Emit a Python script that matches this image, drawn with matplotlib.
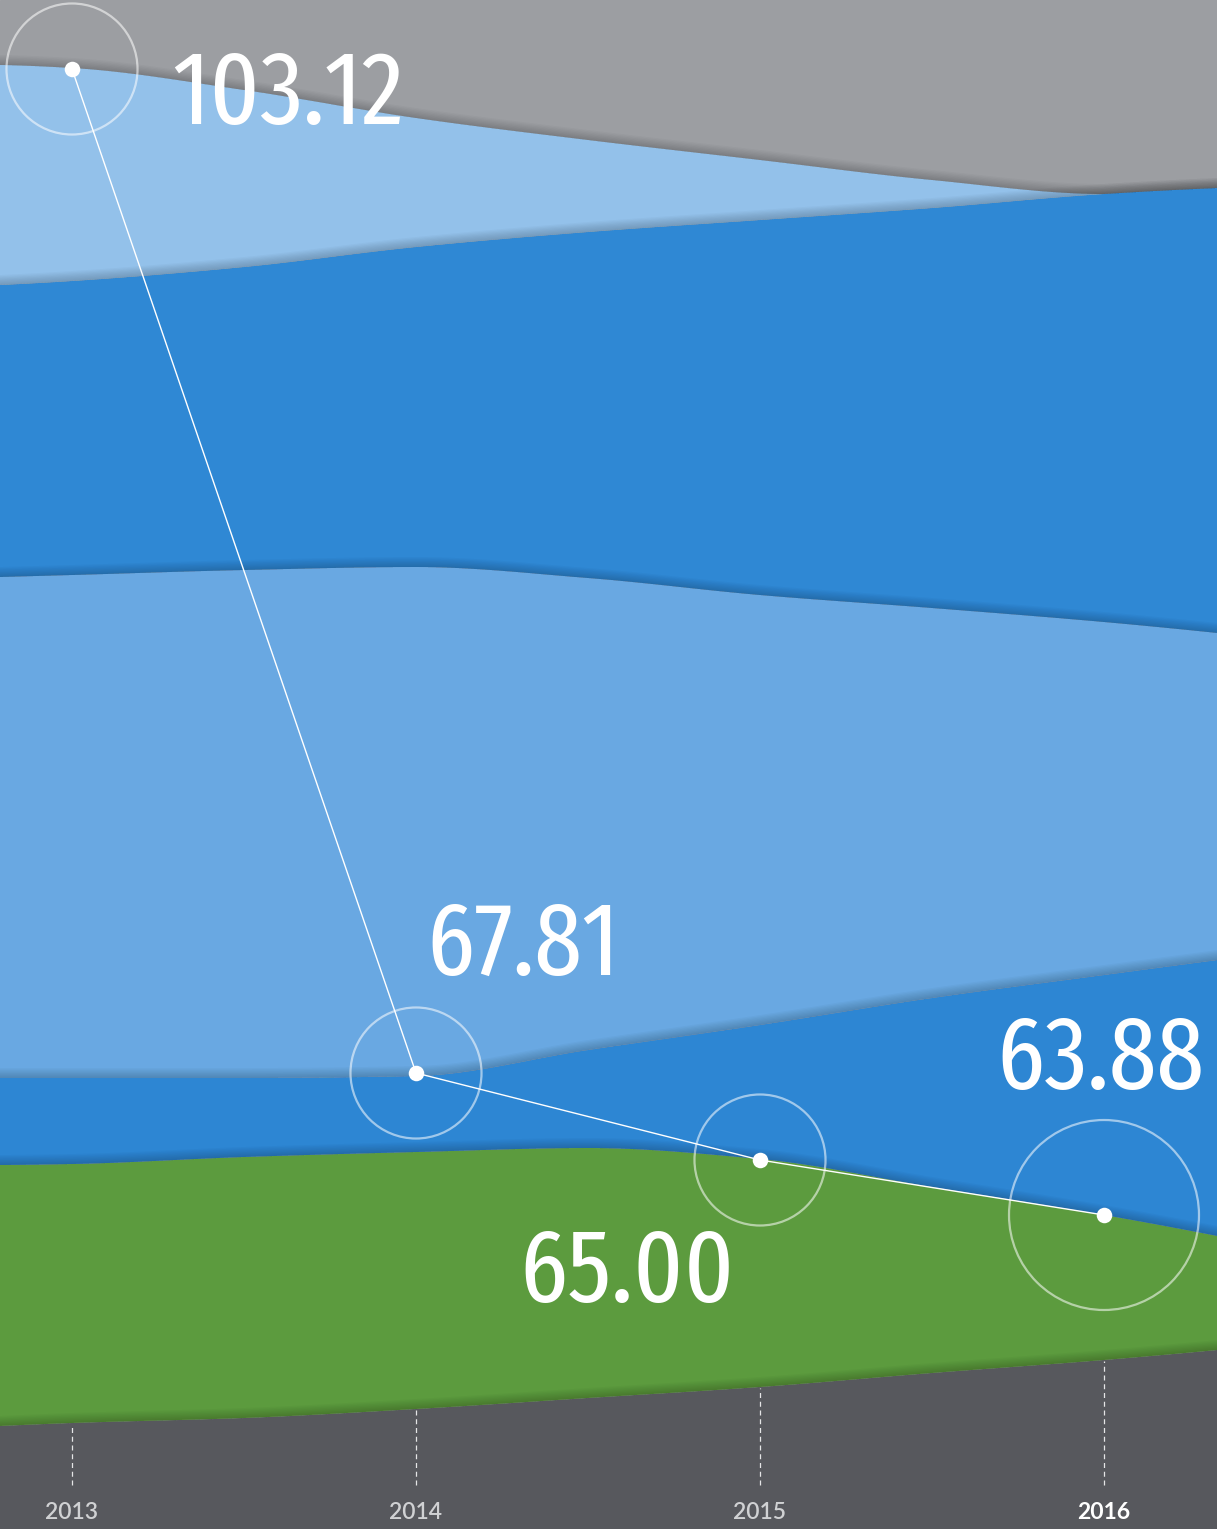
import numpy as np
import matplotlib
matplotlib.use("Agg")
import matplotlib.pyplot as plt

# ---------------- data ----------------
years = [2013, 2014, 2015, 2016]
year_labels = ["2013", "2014", "2015", "2016"]

# sample positions of the stacked layers (read across the full width)
t = [2012.79, 2013.0, 2013.5, 2014.0, 2014.5, 2015.0, 2015.5, 2016.0, 2016.33]

# stacked layer thicknesses (arbitrary units), bottom -> top
base_dark = [10.3, 10.6, 11.1, 12.0, 13.1, 14.2, 15.6, 16.9, 17.9]
green = [26.1, 25.9, 26.1, 25.7, 25.0, 22.8, 18.6, 14.5, 11.4]
blue_low = [8.7, 8.6, 7.9, 7.6, 9.8, 13.4, 18.9, 24.0, 27.6]
blue_mid = [50.1, 50.3, 50.8, 50.9, 47.2, 43.0, 39.0, 35.3, 32.7]
blue_up = [29.2, 29.4, 30.3, 32.0, 34.6, 37.5, 40.0, 42.8, 44.5]
blue_light = [22.0, 21.3, 17.7, 12.9, 9.2, 6.0, 2.8, 0.0, 0.0]

# index line
index_values = [103.12, 67.81, 65.00, 63.88]
index_level = [146.0, 45.6, 36.9, 31.4]   # vertical position
circle_size = [1.0, 1.0, 1.0, 1.45]       # relative ring size

# ---------------- style ----------------
C_TOP = "#9c9ea2"
C_BOTTOM = "#57585d"
layer_colors = [C_BOTTOM, "#5c9b3e", "#2d86d3", "#69a8e2", "#2f88d4", "#93c1ea"]

YMAX = 152.9
X0, X1 = 2013 - 72 / 344, 2013 + (1217 - 72) / 344


def pchip(xk, yk, xq):
    xk = np.asarray(xk, float)
    yk = np.asarray(yk, float)
    n = len(xk)
    h = np.diff(xk)
    dl = np.diff(yk) / h
    d = np.zeros(n)
    for k in range(1, n - 1):
        if dl[k - 1] * dl[k] > 0:
            w1 = 2 * h[k] + h[k - 1]
            w2 = h[k] + 2 * h[k - 1]
            d[k] = (w1 + w2) / (w1 / dl[k - 1] + w2 / dl[k])
    d0 = ((2 * h[0] + h[1]) * dl[0] - h[0] * dl[1]) / (h[0] + h[1])
    if np.sign(d0) != np.sign(dl[0]):
        d0 = 0
    d[0] = d0
    dn = ((2 * h[-1] + h[-2]) * dl[-1] - h[-1] * dl[-2]) / (h[-1] + h[-2])
    if np.sign(dn) != np.sign(dl[-1]):
        dn = 0
    d[-1] = dn
    xq = np.clip(xq, xk[0], xk[-1])
    i = np.clip(np.searchsorted(xk, xq) - 1, 0, n - 2)
    s = (xq - xk[i]) / h[i]
    h00 = 2 * s ** 3 - 3 * s ** 2 + 1
    h10 = s ** 3 - 2 * s ** 2 + s
    h01 = -2 * s ** 3 + 3 * s ** 2
    h11 = s ** 3 - s ** 2
    return h00 * yk[i] + h10 * h[i] * d[i] + h01 * yk[i + 1] + h11 * h[i] * d[i + 1]


fig = plt.figure(figsize=(12.17, 15.29), dpi=100)
ax = fig.add_axes([0, 0, 1, 1])
ax.set_xlim(X0, X1)
ax.set_ylim(0, YMAX)
ax.axis("off")
ax.add_patch(plt.Rectangle((0, 0), 1, 1, transform=ax.transAxes, color=C_TOP, zorder=0))

xs = np.linspace(X0, X1, 800)
layers = [base_dark, green, blue_low, blue_mid, blue_up, blue_light]
cum = np.cumsum(np.array(layers), axis=0)
lower = np.zeros_like(xs)
bounds = []
for row, col in zip(cum, layer_colors):
    upper = np.maximum(pchip(t, row, xs), lower)
    ax.fill_between(xs, lower, upper, color=col, lw=0, zorder=1)
    bounds.append(upper.copy())
    lower = upper

# soft shadows above each boundary (paper-cut look)
for ub in bounds:
    for k in np.linspace(0.12, 1.0, 8):
        ax.fill_between(xs, ub, ub + k, color="black", alpha=0.022, lw=0, zorder=2)

# dashed year ticks
base_at_years = pchip(t, cum[0], np.array(years, float))
for yr, top in zip(years, base_at_years):
    ax.plot([yr, yr], [4.4, top - 0.1], color="white", lw=0.9, alpha=0.85,
            linestyle=(0, (4, 3)), zorder=3)

for i, (yr, lab) in enumerate(zip(years, year_labels)):
    last = i == len(years) - 1
    ax.text(yr, 1.65, lab, ha="center", va="center", fontsize=16.5,
            family=["Lato", "DejaVu Sans"], fontweight=700 if last else 600,
            color="white" if last else "#d0d1d3", zorder=4)

# index line
ax.plot(years, index_level, color="white", lw=1.0, zorder=5)
ax.scatter(years, index_level, s=125, color="white", zorder=6, lw=0)
ax.scatter(years, index_level, s=[8900 * c ** 2 for c in circle_size],
           facecolors="none", edgecolors=(1, 1, 1, 0.55), linewidths=1.6, zorder=6)

offsets = [(100, -55, "left"), (10, 98, "left"), (-241, -142, "left"), (100, 126, "right")]
for yr, lv, val, (dx, dy, ha) in zip(years, index_level, index_values, offsets):
    ax.annotate(f"{val:.2f}", (yr, lv), xytext=(dx, dy), textcoords="offset pixels",
                ha=ha, va="baseline", fontsize=75, color="white",
                family=["Fira Sans Extra Condensed", "DejaVu Sans"], zorder=7)

fig.savefig("out.png", dpi=100)
